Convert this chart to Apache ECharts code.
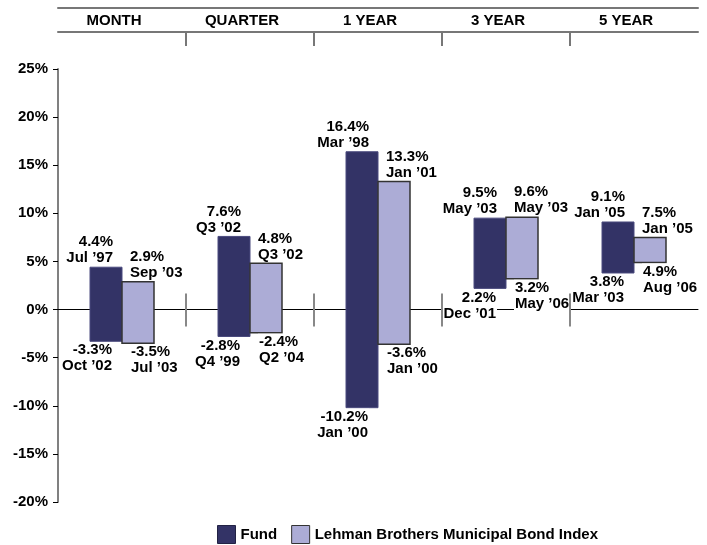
<!DOCTYPE html>
<html lang="en">
<head>
<meta charset="UTF-8">
<title>Fund vs Lehman Brothers Municipal Bond Index</title>
<script src="https://cdn.jsdelivr.net/npm/echarts@6.0.0/dist/echarts.min.js"></script>
<style>
    html, body { margin: 0; padding: 0; background: #fff; }
    #main { width: 707px; height: 545px; }
</style>
</head>
<body>
<div id="main"></div>
<script>
    // periods shown in the header
    var periods = ['MONTH', 'QUARTER', '1 YEAR', '3 YEAR', '5 YEAR'];

    // best / worst returns (%) for each period
    var fundLow = [-3.3, -2.8, -10.2, 2.2, 3.8];
    var fundHigh = [4.4, 7.6, 16.4, 9.5, 9.1];
    var fundLowDate = ['Oct ’02', 'Q4 ’99', 'Jan ’00', 'Dec ’01', 'Mar ’03'];
    var fundHighDate = ['Jul ’97', 'Q3 ’02', 'Mar ’98', 'May ’03', 'Jan ’05'];

    var indexLow = [-3.5, -2.4, -3.6, 3.2, 4.9];
    var indexHigh = [2.9, 4.8, 13.3, 9.6, 7.5];
    var indexLowDate = ['Jul ’03', 'Q2 ’04', 'Jan ’00', 'May ’06', 'Aug ’06'];
    var indexHighDate = ['Sep ’03', 'Q3 ’02', 'Jan ’01', 'May ’03', 'Jan ’05'];

    var yMin = -20, yMax = 25, yStep = 5;

    var FONT = 'bold 15px "Liberation Sans", Arial, sans-serif';
    var FUND_COLOR = '#333366';
    var INDEX_COLOR = '#acacd6';

    function pct(v) {
        return v.toFixed(1) + '%';
    }

    // one floating bar (low..high) with its two labels
    function rangeBar(side, highDates, lowDates, fill, stroke, strokeWidth) {
        return function (params, api) {
            var i = api.value(0);
            var lo = api.coord([i, api.value(1)]);
            var hi = api.coord([i, api.value(2)]);
            var w = api.size([1, 0])[0] * 0.25;
            var x0 = side < 0 ? lo[0] - w : lo[0];
            var tx = side < 0 ? x0 + w - 9 : x0 + 8;
            var align = side < 0 ? 'right' : 'left';
            var idx = params.dataIndex;
            return {
                type: 'group',
                children: [
                    {
                        type: 'rect',
                        shape: { x: x0, y: hi[1], width: w, height: lo[1] - hi[1] },
                        style: { fill: fill, stroke: stroke, lineWidth: strokeWidth }
                    },
                    {
                        type: 'text',
                        style: {
                            text: pct(api.value(2)) + '\n' + highDates[idx],
                            x: tx, y: hi[1] - 1,
                            align: align, verticalAlign: 'bottom',
                            font: FONT, lineHeight: 16, fill: '#000'
                        }
                    },
                    {
                        type: 'text',
                        style: {
                            text: pct(api.value(1)) + '\n' + lowDates[idx],
                            x: tx, y: lo[1] + 1,
                            align: align, verticalAlign: 'top',
                            font: FONT, lineHeight: 16, fill: '#000',
                            backgroundColor: '#fff', padding: [0, 1]
                        }
                    }
                ]
            };
        };
    }

    var fundData = periods.map(function (p, i) { return [i, fundLow[i], fundHigh[i]]; });
    var indexData = periods.map(function (p, i) { return [i, indexLow[i], indexHigh[i]]; });
    var dividerData = periods.slice(1).map(function (p, i) { return [i + 1, 0]; });

    var chart = echarts.init(document.getElementById('main'));

    var option = {
        backgroundColor: '#fff',
        animation: false,
        grid: { left: 58, right: 9, top: 69, bottom: 43 },
        legend: {
            left: 217,
            top: 525,
            padding: 0,
            itemWidth: 18,
            itemHeight: 18,
            itemGap: 14,
            selectedMode: false,
            textStyle: { fontFamily: '"Liberation Sans", Arial, sans-serif', fontWeight: 'bold', fontSize: 15, color: '#000' },
            data: [
                { name: 'Fund', icon: 'rect', itemStyle: { color: FUND_COLOR, borderColor: '#222244', borderWidth: 1 } },
                { name: 'Lehman Brothers Municipal Bond Index', icon: 'rect', itemStyle: { color: INDEX_COLOR, borderColor: '#333', borderWidth: 1 } }
            ]
        },
        xAxis: [
            {
                type: 'category',
                data: periods,
                position: 'bottom',
                axisLine: { onZero: true, lineStyle: { color: '#000', width: 1 } },
                axisTick: { show: false },
                axisLabel: { show: false },
                splitLine: { show: false }
            },
            {
                // header row
                type: 'category',
                data: periods,
                position: 'top',
                offset: 37,
                axisLine: { lineStyle: { color: '#777', width: 2 } },
                axisTick: { show: false },
                axisLabel: {
                    margin: 4,
                    padding: [0, 16, 0, 0],
                    color: '#000',
                    fontFamily: '"Liberation Sans", Arial, sans-serif',
                    fontWeight: 'bold',
                    fontSize: 15
                },
                splitLine: { show: false }
            },
            {
                // rule above the header
                type: 'category',
                data: periods,
                position: 'top',
                offset: 61,
                axisLine: { lineStyle: { color: '#777', width: 2 } },
                axisTick: { show: false },
                axisLabel: { show: false },
                splitLine: { show: false }
            }
        ],
        yAxis: {
            type: 'value',
            min: yMin,
            max: yMax,
            interval: yStep,
            axisLine: { show: true, lineStyle: { color: '#808080', width: 2 } },
            axisTick: { show: true, length: 5, lineStyle: { color: '#000', width: 1 } },
            axisLabel: {
                margin: 10,
                color: '#000',
                fontFamily: '"Liberation Sans", Arial, sans-serif',
                fontWeight: 'bold',
                fontSize: 15,
                formatter: '{value}%'
            },
            splitLine: { show: false }
        },
        series: [
            {
                name: 'Fund',
                type: 'custom',
                itemStyle: { color: FUND_COLOR },
                encode: { x: 0, y: [1, 2] },
                renderItem: rangeBar(-1, fundHighDate, fundLowDate, FUND_COLOR, '#4a4a7e', 1),
                data: fundData,
                z: 2
            },
            {
                name: 'Lehman Brothers Municipal Bond Index',
                type: 'custom',
                itemStyle: { color: INDEX_COLOR },
                encode: { x: 0, y: [1, 2] },
                renderItem: rangeBar(1, indexHighDate, indexLowDate, INDEX_COLOR, '#333', 1.5),
                data: indexData,
                z: 2
            },
            {
                // period separators: on the zero line and under the header
                type: 'custom',
                silent: true,
                encode: { x: 0, y: 1 },
                renderItem: function (params, api) {
                    var c = api.coord([api.value(0), 0]);
                    var x = Math.round(c[0] - api.size([1, 0])[0] / 2);
                    var top = params.coordSys.y;
                    return {
                        type: 'group',
                        children: [
                            { type: 'line', shape: { x1: x, y1: c[1] - 16, x2: x, y2: c[1] + 17 }, style: { stroke: '#888', lineWidth: 2 } },
                            { type: 'line', shape: { x1: x, y1: top - 37, x2: x, y2: top - 23 }, style: { stroke: '#777', lineWidth: 2 } }
                        ]
                    };
                },
                data: dividerData,
                z: 5
            }
        ]
    };

    chart.setOption(option);
</script>
</body>
</html>
